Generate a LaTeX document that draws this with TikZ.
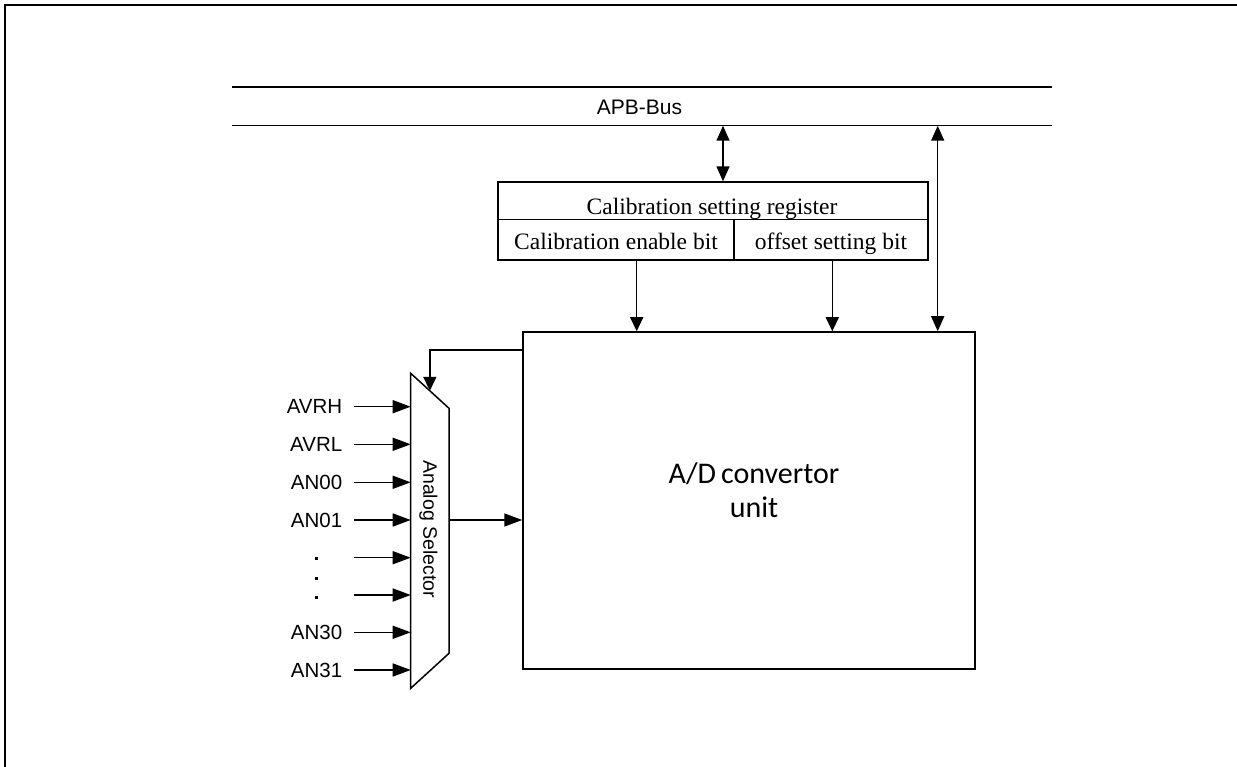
\documentclass[tikz,border=0pt]{standalone}
\usepackage{fontspec}
\setmainfont{Liberation Serif}
\newfontfamily\arialfont{Liberation Sans}
\newfontfamily\calibrifont{Carlito}
\usetikzlibrary{arrows.meta,calc}

\begin{document}
\begin{tikzpicture}[x=1pt,y=-1pt,
  line width=1.5pt,
  cell/.style={draw, rectangle, inner sep=0pt, line width=1.5pt},
  celltext/.style={font=\fontsize{23.5}{27}\selectfont, inner sep=0pt, anchor=base},
  sanslbl/.style={font=\arialfont\fontsize{20.5}{24}\selectfont, inner sep=0pt},
  intip/.style={-{Triangle[length=18pt,width=13pt]}},
  downtip/.style={-{Triangle[length=14pt,width=13pt]}},
  dbltip/.style={{Triangle[length=15pt,width=13pt]}-{Triangle[length=15pt,width=13pt]}},
]
\useasboundingbox (0,0) rectangle (1237,767);
\clip (0,0) rectangle (1237,767);

% outer frame
\draw[line width=2.6pt] (5,5) rectangle (1260,790);

% APB bus
\node[inner sep=0pt, minimum width=818pt, minimum height=37pt] (bus) at (642,106.5) {};
\draw (bus.north west) -- (bus.north east);
\draw (bus.south west) -- (bus.south east);
\node[sanslbl, font=\arialfont\fontsize{21}{24}\selectfont] (buslbl) at (639.5,107) {APB-Bus};

% calibration register
\node[cell, minimum width=430pt, minimum height=37.3pt] (regtop) at (713,200.7) {};
\node[cell, minimum width=236pt, minimum height=40.7pt] (enable) at (616,239.7) {};
\node[cell, minimum width=194pt, minimum height=40.7pt] (offset) at (831,239.7) {};
\node[celltext] (regtxt) at (712,214.3) {Calibration setting register};
\node[celltext] (enatxt) at (616,250) {Calibration enable bit};
\node[celltext] (offtxt) at (831,250) {offset setting bit};

% A/D convertor unit
\node[draw, rectangle, inner sep=0pt, minimum width=452pt, minimum height=337pt] (ad) at (749,500.5) {};
\node[font=\calibrifont\fontsize{30}{34}\selectfont, align=center, inner sep=0pt] (adlbl)
  at (754,490) {A/D\,convertor\\unit};

% bus connections
\coordinate (xa) at (723,0);
\coordinate (xb) at (937.7,0);
\draw[dbltip] (bus.south -| xa) -- (regtop.north -| xa);
\draw[dbltip] (bus.south -| xb) -- (ad.north -| xb);

% register bits to converter
\coordinate (xc) at (636.7,0);
\coordinate (xd) at (832.3,0);
\draw[downtip] (enable.south -| xc) -- (ad.north -| xc);
\draw[downtip] (offset.south -| xd) -- (ad.north -| xd);

% analog selector (multiplexer)
\coordinate (mA) at (410.7,373.3);
\coordinate (mB) at (449,408.3);
\coordinate (mC) at (449,653.3);
\coordinate (mD) at (410.7,688.3);
\draw (mA) -- (mB) -- (mC) -- (mD) -- cycle;
\node[font=\arialfont\fontsize{19.5}{22}\selectfont, rotate=-90, inner sep=0pt] (sellbl)
  at (428.5,529) {Analog Selector};

% select line from converter
\coordinate (sel) at ($(mA)!0.5!(mB)$);
\coordinate (fb) at (523,350);
\draw[downtip] (fb) -| (sel);

% analog inputs
\foreach \y/\t [count=\i] in {406.7/AVRH, 444.3/AVRL, 482.3/AN00, 520/AN01,
                              632.3/AN30, 670/AN31} {
  \coordinate (in\i) at (354,\y);
  \node[sanslbl, anchor=east] (lbl\i) at ($(in\i)+(-11,0)$) {\t};
  \draw[intip] (in\i) -- (in\i -| mA);
}
\coordinate (dotA) at (354,557.7);
\coordinate (dotB) at (354,595);
\draw[intip] (dotA) -- (dotA -| mA);
\draw[intip] (dotB) -- (dotB -| mA);
\foreach \y [count=\j] in {558.7,578.3,597.7}
  \node[rectangle, fill, inner sep=0pt, minimum size=2.6pt] (dot\j) at (316.7,\y) {};

% selector output
\coordinate (mout) at (449,520);
\draw[intip] (mout) -- (mout -| ad.west);
\end{tikzpicture}
\end{document}
